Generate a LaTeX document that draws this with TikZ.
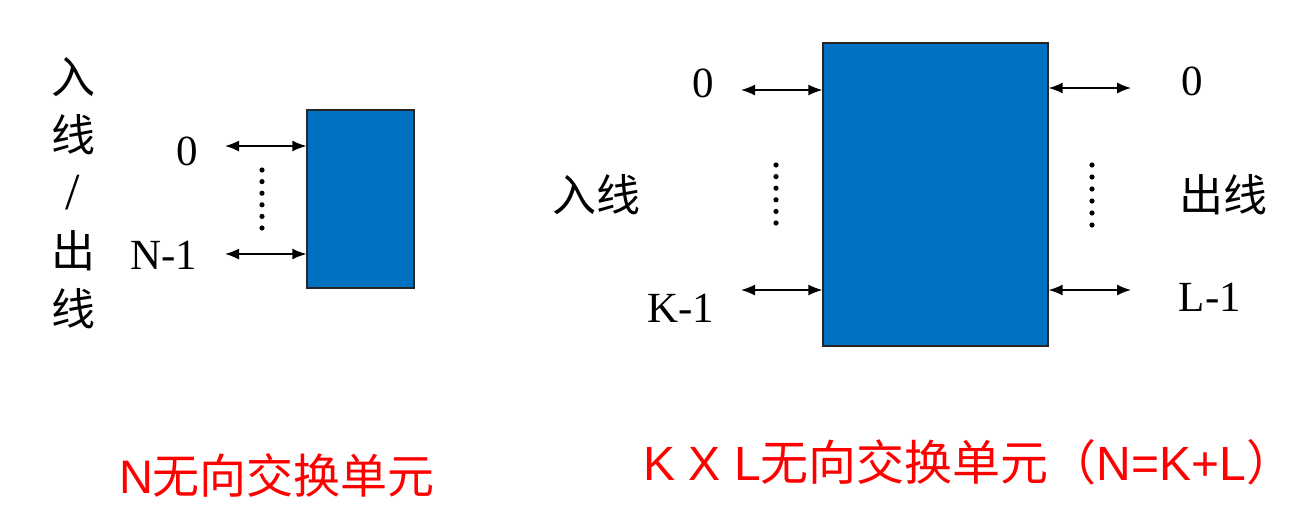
\documentclass[tikz,border=0pt]{standalone}
\usepackage{fontspec}
\setmainfont{Liberation Serif}
\newfontfamily\cjk{Noto Sans CJK SC}
\newfontfamily\redsans{Liberation Sans}
\usepackage{tikz}
\usetikzlibrary{arrows.meta,positioning,calc}
\definecolor{unitblue}{RGB}{0,112,192}
\definecolor{labelred}{RGB}{255,0,0}

\begin{document}
\begin{tikzpicture}[x=1pt,y=-1pt,>={Latex[length=14pt,width=11pt]},
  unit/.style={draw=black!85,line width=1.2pt,fill=unitblue,inner sep=0pt},
  port/.style={<->,line width=1.5pt},
  lbl/.style={inner sep=0pt,font=\fontsize{43}{43}\selectfont},
  cn/.style={inner sep=0pt,font=\cjk\fontsize{44}{58}\selectfont,align=center},
  title/.style={inner sep=0pt,text=labelred,font=\fontsize{47}{47}\selectfont}]
\useasboundingbox (0,0) rectangle (1300,523);
% N unit
\node[unit,minimum width=107pt,minimum height=178pt] (nbox) at (360.5,199) {};
\coordinate (n0) at (225,146);
\coordinate (n1) at (225,254);
\draw[port] (n0) -- (n0 -| nbox.west);
\draw[port] (n1) -- (n1 -| nbox.west);
\foreach \i in {0,...,5} \fill (262,170+11.6*\i) circle (2.6pt);
\node[lbl] (n0lbl) at (187,151) {0};
\node[lbl] (n1lbl) at (164,255) {N-1};
\node[cn] (nside) at (73,193) {入\\线\\{\rmfamily\fontsize{52}{58}\selectfont /}\\出\\线};
\node[title] (ntitle) at (277,475) {{\redsans N}{\cjk 无向交换单元}};
% KxL unit
\node[unit,minimum width=225pt,minimum height=303pt] (kbox) at (935.5,194.5) {};
\coordinate (k0) at (741,90);
\coordinate (k1) at (741,290);
\coordinate (l0) at (1131,88);
\coordinate (l1) at (1131,290);
\draw[port] (k0) -- (k0 -| kbox.west);
\draw[port] (k1) -- (k1 -| kbox.west);
\draw[port] (l0) -- (l0 -| kbox.east);
\draw[port] (l1) -- (l1 -| kbox.east);
\foreach \i in {0,...,5} \fill (776,165+11.6*\i) circle (2.6pt);
\foreach \i in {0,...,5} \fill (1092,165+12*\i) circle (2.6pt);
\node[lbl] (k0lbl) at (703,83) {0};
\node[lbl] (k1lbl) at (681,308) {K-1};
\node[lbl] (l0lbl) at (1192,81) {0};
\node[lbl] (l1lbl) at (1210,297) {L-1};
\node[cn] (kin) at (596,195) {入线};
\node[cn] (lout) at (1223,195) {出线};
\node[title,font=\fontsize{48}{48}\selectfont] (ktitle) at (969,462) {{\redsans K X L}{\cjk 无向交换单元（}{\redsans N=K+L}{\cjk ）}};
\end{tikzpicture}
\end{document}
